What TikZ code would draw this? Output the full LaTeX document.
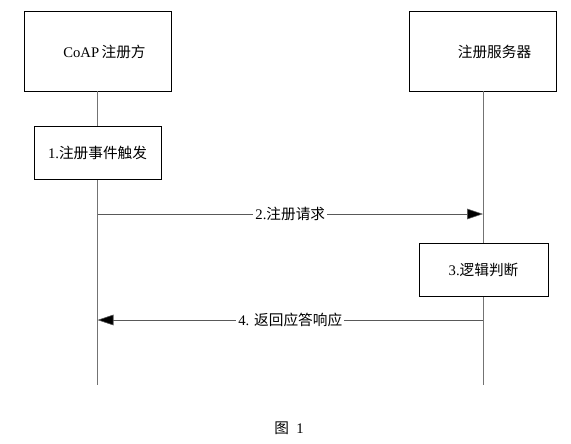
\documentclass[tikz,border=0pt]{standalone}
\usepackage{fontspec}
\setmainfont{Liberation Serif}
\newfontfamily\cjk{Noto Sans CJK SC}
\usetikzlibrary{arrows.meta}

\begin{document}
\begin{tikzpicture}[x=0.75pt,y=-0.75pt,
    every node/.style={font=\fontsize{11}{13}\selectfont},
    party/.style={draw,fill=white,minimum width=110.5pt,minimum height=60pt},
    stepbox/.style={draw,fill=white,minimum height=40pt},
    lifeline/.style={draw=black!55},
    msgline/.style={draw=black!65,-{Triangle[length=12pt,width=8pt,fill=black]}},
    msglabel/.style={fill=white,inner sep=1.5pt}]
  \useasboundingbox (0,0) rectangle (571,443);
  % parties and lifelines
  \node[party] (coap) at (97.5,51) {};
  \node[party] (srv) at (483,51) {};
  \node at (104.5,52) (coaptext) {CoAP\,{\cjk 注册方}};
  \node at (494.5,52) (srvtext) {\cjk 注册服务器};
  \coordinate (coapend) at (97.5,385);
  \coordinate (srvend) at (483,385);
  \draw[lifeline] (coap) -- (coapend);
  \draw[lifeline] (srv) -- (srvend);
  % steps
  \node[stepbox,minimum width=95.5pt] (trigger) at (97.5,152.5) {1.{\cjk 注册事件触发}};
  \node[stepbox,minimum width=97pt] (judge) at (483.5,270) {3.{\cjk 逻辑判断}};
  % messages
  \coordinate (reqfrom) at (97.5,214);
  \coordinate (reqto) at (483,214);
  \coordinate (respfrom) at (483,320);
  \coordinate (respto) at (97.5,320);
  \draw[msgline] (reqfrom) -- node[msglabel] (req) {2.{\cjk 注册请求}} (reqto);
  \draw[msgline] (respfrom) -- node[msglabel] (resp) {4. {\cjk 返回应答响应}\ } (respto);
  % caption
  \node at (289,428) (caption) {{\cjk 图}\ \ 1};
\end{tikzpicture}
\end{document}
